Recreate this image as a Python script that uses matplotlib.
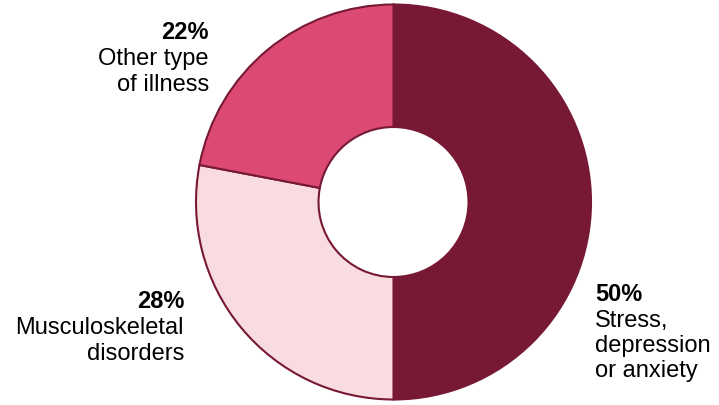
import matplotlib
matplotlib.use("Agg")
import matplotlib.pyplot as plt

categories = ["Stress, depression or anxiety", "Musculoskeletal disorders", "Other type of illness"]
values = [50, 28, 22]
colors = ["#771835", "#f9dcdf", "#dc4a73"]

W, H = 719, 406
fig = plt.figure(figsize=(W / 100, H / 100), dpi=100)
ax = fig.add_axes([0, 0, 1, 1])

cx, cy = 393.5, H - 203
R = 197.5
r_in = 75
ax.pie(values, colors=colors, startangle=90, counterclock=False, center=(cx, cy), radius=R,
       wedgeprops=dict(width=R - r_in, edgecolor="#771835", linewidth=1.5), frame=True)
ax.set_xlim(0, W)
ax.set_ylim(0, H)
ax.set_aspect("equal")
ax.axis("off")

font = "Liberation Sans"
fs = 17

def txt(x, y, s, ha, bold=False):
    fig.text(x / W, 1 - y / H, s, ha=ha, va="baseline", fontsize=fs, family=font,
             fontweight="bold" if bold else "normal", color="black")

# Other type of illness
txt(209, 39, f"{values[2]}%", "right", True)
txt(209, 65, "Other type", "right")
txt(209, 91, "of illness", "right")
# Musculoskeletal
txt(184, 308, f"{values[1]}%", "right", True)
txt(184, 334, "Musculoskeletal", "right")
txt(184, 360, "disorders", "right")
# Stress
txt(595, 301, f"{values[0]}%", "left", True)
txt(595, 327, "Stress,", "left")
txt(595, 352, "depression", "left")
txt(595, 377, "or anxiety", "left")

fig.savefig("out.png", dpi=100)
